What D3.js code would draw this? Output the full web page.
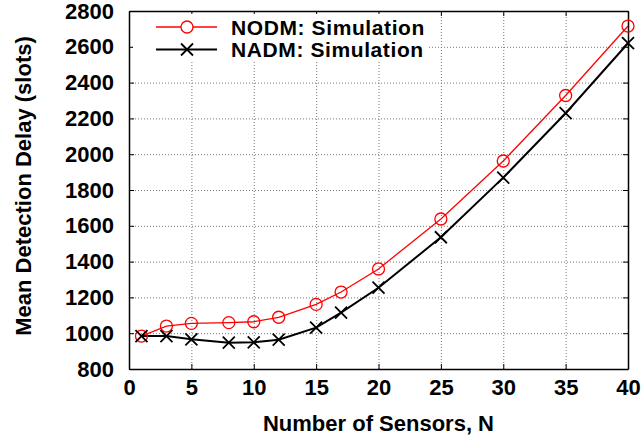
<!DOCTYPE html>
<html>
<head>
<meta charset="utf-8">
<script src="https://cdn.jsdelivr.net/npm/d3@7"></script>
<style>
  body { margin: 0; background: #fff; }
  svg text { font-family: "Liberation Sans", Arial, Helvetica, sans-serif; font-weight: bold; fill: #000; }
</style>
</head>
<body>
<svg id="chart" width="644" height="438"></svg>
<script>
// sensors on the x axis
const sensors = [1, 3, 5, 8, 10, 12, 15, 17, 20, 25, 30, 35, 40];
// mean detection delay in slots
const nodmSim = [984, 1040, 1055, 1059, 1064, 1089, 1161, 1230, 1359, 1638, 1962, 2328, 2716];
const nadmSim = [984, 984, 966, 947, 949, 964, 1031, 1115, 1254, 1536, 1869, 2229, 2620];
const xTicks = [0, 5, 10, 15, 20, 25, 30, 35, 40];
const yTicks = [800, 1000, 1200, 1400, 1600, 1800, 2000, 2200, 2400, 2600, 2800];
const seriesNames = ["NODM: Simulation", "NADM: Simulation"];

const margin = { top: 11, right: 16, bottom: 69, left: 129 };
const W = 644, H = 438;
const width = W - margin.left - margin.right;
const height = H - margin.top - margin.bottom;

const svg = d3.select("#chart");
const g = svg.append("g").attr("transform", `translate(${margin.left},${margin.top})`);

const x = d3.scaleLinear().domain([0, 40]).range([0, width]);
const y = d3.scaleLinear().domain([800, 2800]).range([height, 0]);

// dotted grid
g.append("g")
  .attr("transform", `translate(0,${height})`)
  .call(d3.axisBottom(x).tickValues(xTicks).tickSize(-height).tickFormat(""))
  .call(a => a.select(".domain").remove())
  .call(a => a.selectAll("line").attr("stroke", "#777").attr("stroke-dasharray", "1,2"));
g.append("g")
  .call(d3.axisLeft(y).tickValues(yTicks).tickSize(-width).tickFormat(""))
  .call(a => a.select(".domain").remove())
  .call(a => a.selectAll("line").attr("stroke", "#777").attr("stroke-dasharray", "1,2"));

// axes with inward ticks
const xAxis = g.append("g")
  .attr("transform", `translate(0,${height})`)
  .call(d3.axisBottom(x).tickValues(xTicks).tickFormat(d3.format("d")).tickSizeInner(-5).tickSizeOuter(0));
xAxis.selectAll("text").attr("y", 26).attr("dy", 0).style("font-size", "22px");

const yAxis = g.append("g")
  .call(d3.axisLeft(y).tickValues(yTicks).tickFormat(d3.format("d")).tickSizeInner(-5).tickSizeOuter(0));
yAxis.selectAll("text").attr("x", -15).style("font-size", "22px");

g.append("g").call(d3.axisTop(x).tickValues(xTicks).tickSizeInner(-5).tickSizeOuter(0).tickFormat(""));
g.append("g").attr("transform", `translate(${width},0)`)
  .call(d3.axisRight(y).tickValues(yTicks).tickSizeInner(-5).tickSizeOuter(0).tickFormat(""));

svg.selectAll(".domain").attr("stroke", "#000").attr("stroke-width", 1.5);
svg.selectAll(".tick line").filter(function () { return !this.getAttribute("stroke-dasharray"); })
  .attr("stroke", "#000");

// axis titles
svg.append("text")
  .attr("x", margin.left + width / 2).attr("y", 431)
  .attr("text-anchor", "middle").style("font-size", "22px")
  .text("Number of Sensors, N");
svg.append("text")
  .attr("transform", "translate(31,186) rotate(-90)")
  .attr("text-anchor", "middle").style("font-size", "22px")
  .text("Mean Detection Delay (slots)");

// lines + markers
const line = d3.line().x((d, i) => x(sensors[i])).y(d => y(d));

g.append("path").datum(nodmSim).attr("d", line)
  .attr("fill", "none").attr("stroke", "#ff0000").attr("stroke-width", 1.3);
g.append("path").datum(nadmSim).attr("d", line)
  .attr("fill", "none").attr("stroke", "#000").attr("stroke-width", 2);

const cross = (sel, s) => sel.attr("d", `M${-s},${-s}L${s},${s}M${-s},${s}L${s},${-s}`);

g.selectAll(".circ").data(nodmSim).enter().append("circle")
  .attr("class", "circ")
  .attr("cx", (d, i) => x(sensors[i])).attr("cy", d => y(d)).attr("r", 6)
  .attr("fill", "none").attr("stroke", "#ff0000").attr("stroke-width", 1.3);
g.selectAll(".cross").data(nadmSim).enter().append("path")
  .attr("class", "cross")
  .attr("transform", (d, i) => `translate(${x(sensors[i])},${y(d)})`)
  .call(cross, 6)
  .attr("fill", "none").attr("stroke", "#000").attr("stroke-width", 1.8);

// legend
const leg = svg.append("g");
leg.append("rect").attr("x", 133).attr("y", 14).attr("width", 295).attr("height", 46).attr("fill", "#fff");
const legRows = [
  { name: seriesNames[0], color: "#ff0000", w: 1.3, y: 27 },
  { name: seriesNames[1], color: "#000", w: 2, y: 49.5 }
];
legRows.forEach((r, i) => {
  leg.append("line").attr("x1", 156).attr("x2", 217).attr("y1", r.y).attr("y2", r.y)
    .attr("stroke", r.color).attr("stroke-width", r.w);
  if (i === 0) {
    leg.append("circle").attr("cx", 187).attr("cy", r.y).attr("r", 6)
      .attr("fill", "#fff").attr("stroke", r.color).attr("stroke-width", 1.3);
  } else {
    leg.append("path").attr("transform", `translate(187,${r.y})`).call(cross, 6)
      .attr("stroke", r.color).attr("stroke-width", 1.8);
  }
  leg.append("text").attr("x", 231).attr("y", r.y + 7.5)
    .style("font-size", "21px").style("letter-spacing", "0.6px").text(r.name);
});
</script>
</body>
</html>
